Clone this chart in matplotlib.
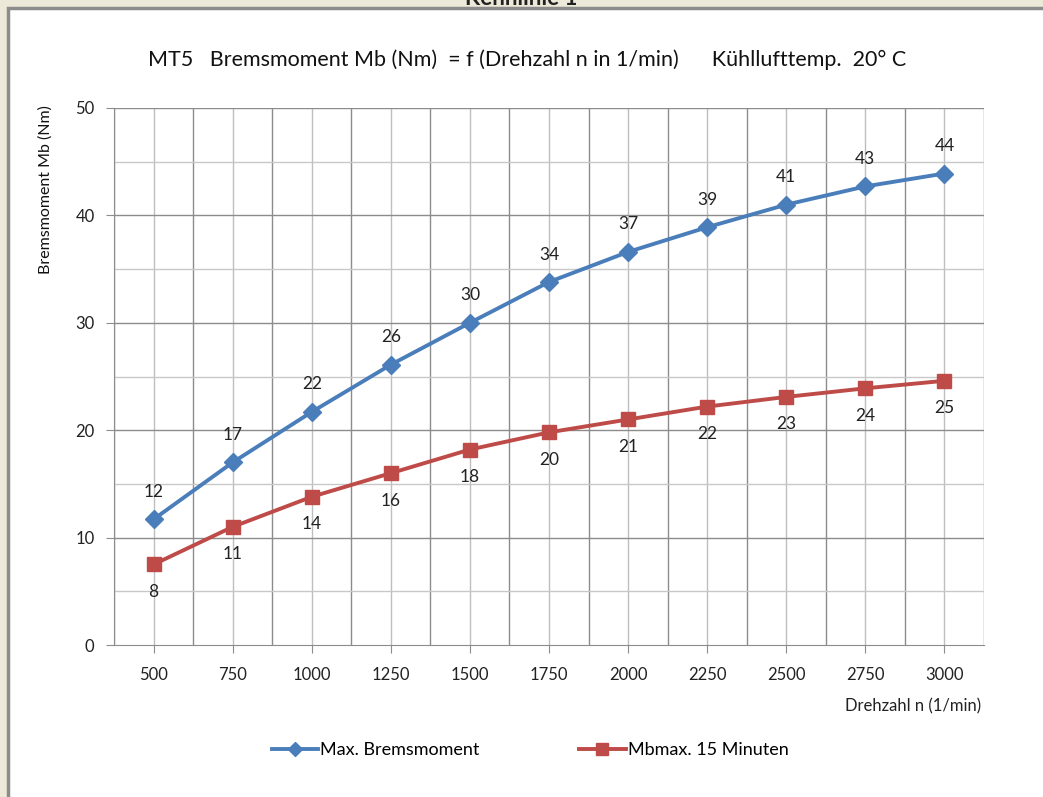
import matplotlib
matplotlib.use("Agg")
import matplotlib.pyplot as plt
from matplotlib.patches import Rectangle
import numpy as np

plt.rcParams['font.family'] = ['Lato', 'DejaVu Sans']

categories = ["500", "750", "1000", "1250", "1500", "1750", "2000", "2250", "2500", "2750", "3000"]
max_brems = [11.7, 17.0, 21.7, 26.1, 30.0, 33.8, 36.6, 38.9, 41.0, 42.7, 43.9]
mb_15min = [7.5, 11.0, 13.8, 16.0, 18.2, 19.8, 21.0, 22.2, 23.1, 23.9, 24.6]
max_labels = ["12", "17", "22", "26", "30", "34", "37", "39", "41", "43", "44"]
mb_labels = ["8", "11", "14", "16", "18", "20", "21", "22", "23", "24", "25"]

W, H = 1043, 797
fig = plt.figure(figsize=(W/100, H/100), dpi=100)
fig.patch.set_facecolor('#ECE9D8')

# white chart area with gray border
fig.patches.append(Rectangle((8/W, -0.01), 1.05, (H-8)/H + 0.01, transform=fig.transFigure,
                             facecolor='white', edgecolor='#8C8C8C', linewidth=2.5, zorder=-5))
fig.text(0.5, 1.0 + 2/H, "Kennlinie 1", ha='center', va='center', fontsize=16,
         fontweight='bold', color='#222222')

left, right, top, bottom = 114, 984, 108, 645
ax = fig.add_axes([left/W, 1-bottom/H, (right-left)/W, (bottom-top)/H])
ax.set_zorder(1)
ax.set_facecolor('white')

x = np.arange(len(categories))
ax.set_xlim(-0.5, len(categories)-0.5)
ax.set_ylim(0, 50)

# gridlines
for b in np.arange(-0.5, len(categories), 1.0):
    ax.axvline(b, color='#8C8C8C', lw=1.0, zorder=1)
for c in x:
    ax.axvline(c, color='#BEBEBE', lw=1.0, zorder=1)
for yv in range(10, 51, 10):
    ax.axhline(yv, color='#8C8C8C', lw=1.0, zorder=1)
for yv in range(5, 50, 10):
    ax.axhline(yv, color='#C8C8C8', lw=1.0, zorder=1)

blue = '#4A7EBB'
red = '#BE4B48'
ax.plot(x, max_brems, color=blue, lw=2.8, marker='D', markersize=9, zorder=3,
        label='Max. Bremsmoment')
ax.plot(x, mb_15min, color=red, lw=2.8, marker='s', markersize=10, zorder=3,
        label='Mbmax. 15 Minuten')

for xi, v, t in zip(x, max_brems, max_labels):
    ax.annotate(t, (xi, v), xytext=(0, 14), textcoords='offset points', ha='center',
                va='bottom', fontsize=12.5, color='#222222')
for xi, v, t in zip(x, mb_15min, mb_labels):
    ax.annotate(t, (xi, v), xytext=(0, -14), textcoords='offset points', ha='center',
                va='top', fontsize=12.5, color='#222222')

ax.set_xticks(x)
ax.set_xticklabels(categories, fontsize=12, color='#222222')
ax.set_yticks(range(0, 51, 10))
ax.set_yticklabels([str(v) for v in range(0, 51, 10)], fontsize=12, color='#222222')
ax.tick_params(axis='x', length=6, color='#8C8C8C', pad=10)
ax.tick_params(axis='y', length=6, color='#8C8C8C', pad=8)
for s in ['top', 'right']:
    ax.spines[s].set_visible(False)
ax.spines['left'].set_color('#8C8C8C')
ax.spines['bottom'].set_color('#8C8C8C')

fig.text(527/W, 1-60/H, "MT5   Bremsmoment Mb (Nm)  = f (Drehzahl n in 1/min)      Kühllufttemp.  20° C",
         ha='center', va='center', fontsize=15.5, color='#111111')
fig.text(46/W, 1-190/H, "Bremsmoment Mb (Nm)", rotation=90, ha='center', va='center',
         fontsize=11.5, color='#111111')
fig.text(981/W, 1-706/H, "Drehzahl n (1/min)", ha='right', va='center', fontsize=12,
         color='#222222')

leg = fig.legend(loc='center', bbox_to_anchor=(530/W, 1-750/H), ncol=2, frameon=False,
                 fontsize=13, handlelength=2.6, handletextpad=0.1, columnspacing=5.5,
                 markerscale=0.8)

fig.savefig('out.png', dpi=100, facecolor=fig.get_facecolor())
